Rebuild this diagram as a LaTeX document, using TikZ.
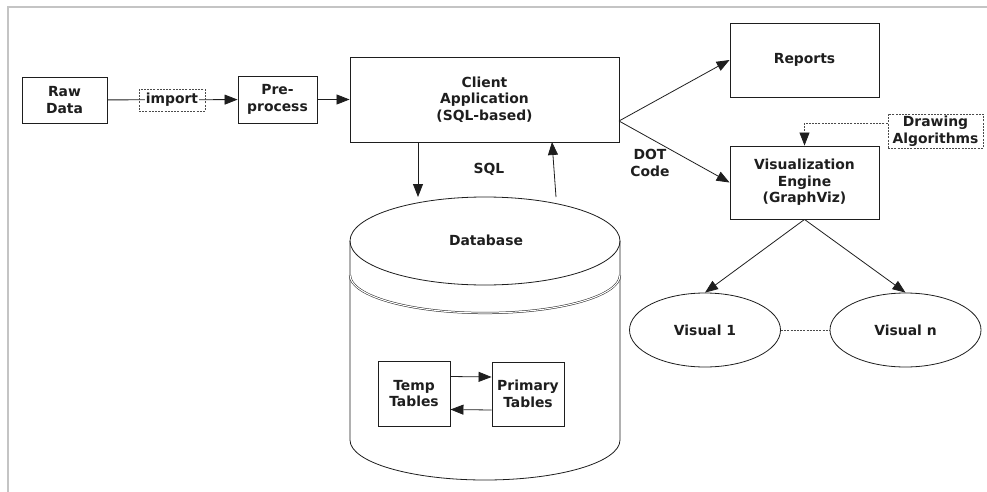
\documentclass[tikz,border=0pt]{standalone}
\usepackage{fontspec}
\setmainfont{DejaVu Sans}
\usetikzlibrary{arrows.meta,calc,shapes.geometric}

\definecolor{ink}{HTML}{1E1E1E}
\definecolor{framegray}{HTML}{C4C4C4}

\tikzset{
  every node/.style={font=\fontsize{13.9}{16.6}\selectfont\bfseries, text=ink, align=center},
  box/.style={draw=ink, line width=0.9pt, rectangle, inner sep=0pt},
  dashbox/.style={draw=ink!80, line width=0.7pt, dash pattern=on 2pt off 1.2pt, rectangle, inner sep=0pt},
  oval/.style={draw=ink, line width=0.8pt, ellipse, inner sep=0pt},
  link/.style={draw=ink, line width=0.8pt},
  arrowlink/.style={link, -{Triangle[length=13pt,width=10pt]}},
  dashlink/.style={draw=ink!80, line width=0.7pt, dash pattern=on 2pt off 1.2pt},
  cyl/.style={draw=ink, line width=0.8pt},
}

\begin{document}
\begin{tikzpicture}[x=1pt, y=-1pt]
  \useasboundingbox (0,0) rectangle (987,492);

  % outer frame (top and left edges only)
  \draw[framegray, line width=2pt] (8,492) -- (8,7) -- (987,7);

  % pipeline boxes
  \node[box, minimum width=85pt, minimum height=46pt] (raw) at (64.5,100) {Raw\\Data};
  \node[box, minimum width=79pt, minimum height=47pt] (pre) at (277.5,99.5) {Pre-\\process};
  \node[box, minimum width=269pt, minimum height=85pt] (client) at (484.5,99.5) {Client\\Application\\(SQL-based)};
  \node[box, minimum width=149pt, minimum height=74pt] (reports) at (804.5,60) {Reports};
  \node[box, minimum width=149pt, minimum height=73pt] (vis) at (804.5,182.5) {Visualization\\Engine\\(GraphViz)};
  \node[dashbox, minimum width=95pt, minimum height=34pt] (drw) at (935.5,131) {Drawing\\Algorithms};

  % raw data -> pre-process, with the import step on the line
  \draw[arrowlink] (raw) -- (pre);
  \node[dashbox, minimum width=66pt, minimum height=22pt] (imp) at (172,100)
    {{\setlength{\fboxsep}{0.6pt}\colorbox{white}{import}}};

  \draw[arrowlink] (pre) -- (client);

  % database cylinder
  \coordinate (dbL) at (350,241);
  \coordinate (dbR) at (620,241);
  \draw[cyl, fill=white] (485,241) ellipse [x radius=135, y radius=44];
  \draw[cyl] (dbL) -- (350,440) arc [start angle=180, end angle=0, x radius=135, y radius=40] -- (dbR);
  \draw[cyl, line width=0.5pt, double=white, double distance=1.1pt]
    (350,275) arc [start angle=180, end angle=0, x radius=135, y radius=38];
  \node (db) at (486,240) {Database};

  % tables inside the database
  \node[box, minimum width=72pt, minimum height=65pt] (temp) at (414,393.5) {Temp\\Tables};
  \node[box, minimum width=72pt, minimum height=64pt] (prim) at (528,394) {Primary\\Tables};
  \draw[arrowlink] ($(temp.east)+(0,-17)$) -- ($(prim.west)+(0,-17)$);
  \draw[arrowlink] ($(prim.west)+(0,16)$) -- ($(temp.east)+(0,16)$);

  % SQL traffic between client and database
  \coordinate (sqlin) at (418,197);
  \coordinate (sqlout) at (556,197);
  \coordinate (sqlret) at (552,142);
  \draw[arrowlink] (client.south -| sqlin) -- (sqlin);
  \draw[arrowlink] (sqlout) -- (sqlret);
  \node (sql) at (489,169) {SQL};

  % client outputs
  \coordinate (cout) at (619,121);
  \draw[arrowlink] (cout) -- (reports.west);
  \draw[arrowlink] (cout) -- (vis.west);
  \node (dot) at (650,163) {DOT\\Code};

  % drawing algorithms feed the engine
  \draw[dashlink, -{Triangle[length=13pt,width=10pt,color=ink,fill=ink]}] ($(drw.west)+(0,-8)$) -| (vis.north);

  % rendered visuals
  \node[oval, minimum width=151pt, minimum height=74pt] (v1) at (705,330) {Visual 1};
  \node[oval, minimum width=151pt, minimum height=74pt] (vn) at (905.5,330) {Visual n};
  \draw[arrowlink] (vis.south) -- (v1.north);
  \draw[arrowlink] (vis.south) -- (vn.north);
  \draw[dashlink] (v1.east) -- (vn.west);
\end{tikzpicture}
\end{document}
